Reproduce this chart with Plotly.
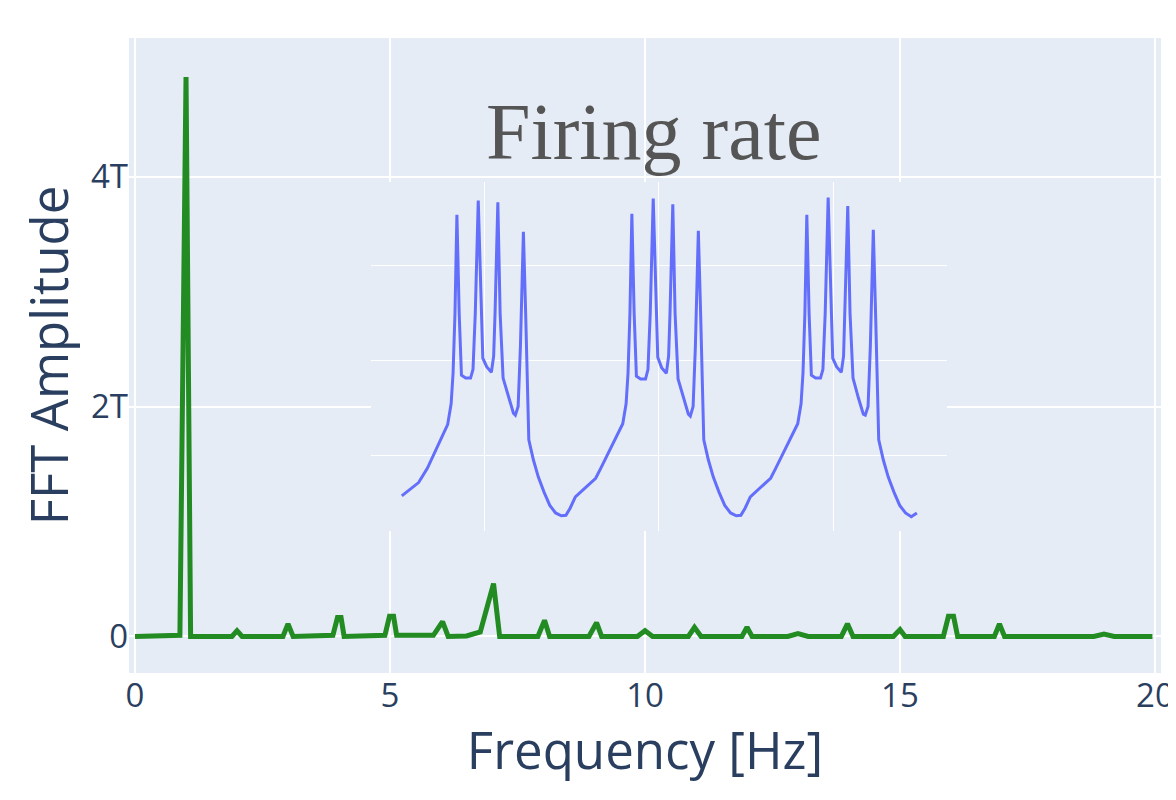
import plotly.graph_objects as go

# ---- FFT spectrum (main axes) ----
freq_hz = [0.0, 0.88, 1.0, 1.09, 1.9, 2.0, 2.1, 2.9, 3.0, 3.1, 3.88, 3.97, 4.04, 4.1,
           4.9, 4.99, 5.07, 5.13, 5.85, 6.03, 6.14, 6.5, 6.77, 7.03, 7.15, 7.9, 8.03, 8.13,
           8.9, 9.05, 9.15, 9.85, 10.0, 10.15, 10.85, 10.97, 11.1, 11.9, 12.0, 12.1,
           12.8, 13.0, 13.2, 13.85, 13.97, 14.08, 14.87, 15.0, 15.1, 15.85, 15.95, 16.05,
           16.13, 16.85, 16.95, 17.05, 18.8, 19.0, 19.2, 19.95]
fft_amp_T = [0.0, 0.01, 4.87, 0.0, 0.0, 0.05, 0.0, 0.0, 0.11, 0.0, 0.01, 0.165, 0.165, 0.0,
             0.01, 0.175, 0.175, 0.01, 0.01, 0.13, 0.0, 0.005, 0.04, 0.46, 0.0, 0.0, 0.14, 0.0,
             0.0, 0.12, 0.0, 0.0, 0.05, 0.0, 0.0, 0.08, 0.0, 0.0, 0.08, 0.0,
             0.0, 0.025, 0.0, 0.0, 0.11, 0.0, 0.0, 0.06, 0.0, 0.0, 0.175, 0.175,
             0.0, 0.0, 0.11, 0.0, 0.0, 0.02, 0.0, 0.0]
fft_amp = [v * 1e12 for v in fft_amp_T]

# ---- Firing rate (inset axes) ----
time_s = [4.530, 4.578, 4.626, 4.676, 4.731, 4.792,
          4.812, 4.823, 4.834, 4.845, 4.858, 4.871, 4.895, 4.923, 4.937, 4.950, 4.967, 4.983,
          4.993, 5.015, 5.042, 5.055, 5.063, 5.079, 5.092, 5.109, 5.140, 5.168, 5.179, 5.195,
          5.208, 5.225, 5.238, 5.256,
          5.282, 5.310, 5.343, 5.376, 5.409, 5.442, 5.468, 5.492, 5.522, 5.562, 5.601, 5.638,
          5.667, 5.704, 5.754, 5.793,
          5.812, 5.823, 5.834, 5.845, 5.858, 5.871, 5.895, 5.923, 5.937, 5.950, 5.967, 5.983,
          5.993, 6.015, 6.042, 6.055, 6.063, 6.079, 6.092, 6.109, 6.140, 6.168, 6.179, 6.195,
          6.208, 6.225, 6.238, 6.256,
          6.282, 6.310, 6.343, 6.376, 6.409, 6.442, 6.468, 6.492, 6.522, 6.562, 6.601, 6.638,
          6.667, 6.704, 6.754, 6.793,
          6.812, 6.823, 6.834, 6.845, 6.858, 6.871, 6.895, 6.923, 6.937, 6.950, 6.967, 6.983,
          6.993, 7.015, 7.042, 7.055, 7.063, 7.079, 7.092, 7.109, 7.140, 7.168, 7.179, 7.195,
          7.208, 7.225, 7.238, 7.256,
          7.282, 7.310, 7.343, 7.376, 7.409, 7.442, 7.474]
rate_hz = [5.7, 6.4, 7.1, 8.6, 10.7, 13.2,
           15.4, 18.6, 24.9, 35.3, 24.9, 18.4, 18.1, 18.1, 19.0, 24.9, 36.8, 24.9,
           20.2, 19.3, 18.7, 20.4, 24.9, 36.6, 24.9, 18.1, 16.0, 14.4, 14.2, 15.1,
           21.4, 33.5, 24.9, 11.6,
           9.5, 7.7, 6.1, 4.7, 3.9, 3.6, 3.65, 4.4, 5.6, 6.25, 6.85, 7.55,
           8.6, 10.0, 11.75, 13.3,
           15.4, 18.6, 24.9, 35.4, 24.9, 18.3, 18.0, 18.0, 19.0, 24.9, 37.0, 24.9,
           20.3, 19.2, 18.6, 20.4, 24.9, 36.4, 24.9, 18.0, 16.0, 14.3, 14.1, 15.1,
           21.4, 33.6, 24.9, 11.6,
           9.5, 7.7, 6.1, 4.7, 3.9, 3.6, 3.65, 4.4, 5.6, 6.25, 6.85, 7.55,
           8.6, 10.0, 11.75, 13.3,
           15.4, 18.6, 24.9, 35.3, 24.9, 18.4, 18.1, 18.1, 19.0, 24.9, 37.1, 24.9,
           20.2, 19.3, 18.7, 20.4, 24.9, 36.2, 24.9, 18.1, 16.0, 14.3, 14.2, 15.1,
           21.4, 33.7, 24.9, 11.6,
           9.5, 7.7, 6.1, 4.7, 3.9, 3.5, 3.9]

fig = go.Figure()
fig.add_trace(go.Scatter(x=freq_hz, y=fft_amp, mode="lines",
                         line=dict(color="forestgreen", width=5),
                         xaxis="x", yaxis="y", showlegend=False))
fig.add_trace(go.Scatter(x=time_s, y=rate_hz, mode="lines",
                         line=dict(color="#636efa", width=3),
                         xaxis="x2", yaxis="y2", showlegend=False))

fig.update_layout(
    width=1168, height=776,
    margin=dict(l=121, r=15, t=30, b=111),
    font=dict(family="Open Sans", color="#2a3f5f"),
    xaxis=dict(range=[-0.118, 20.118], tickvals=[0, 5, 10, 15, 20],
               title=dict(text="Frequency [Hz]", font=dict(size=51), standoff=20),
               tickfont=dict(size=33), gridwidth=2, zerolinewidth=2, automargin=False),
    yaxis=dict(range=[-0.318e12, 5.209e12], dtick=2e12, tick0=0,
               title=dict(text="FFT Amplitude", font=dict(size=51), standoff=6),
               tickfont=dict(size=33), gridwidth=2, zerolinewidth=2, automargin=False),
    xaxis2=dict(domain=[0.2345, 0.7926], anchor="y2", range=[4.354, 7.646],
                tick0=5, dtick=1, showticklabels=False, zeroline=False, gridwidth=1),
    yaxis2=dict(domain=[0.2236, 0.7732], anchor="x2", range=[2.0, 38.74],
                tick0=10, dtick=10, showticklabels=False, zeroline=False, gridwidth=1),
    annotations=[dict(text="Firing rate", xref="x2 domain", yref="y2 domain",
                      x=0.5, y=1.0, xanchor="center", yanchor="bottom", showarrow=False,
                      xshift=-5, yshift=4,
                      font=dict(family="Liberation Serif", size=80, color="#555555"))],
)

fig.write_html("out.html")
